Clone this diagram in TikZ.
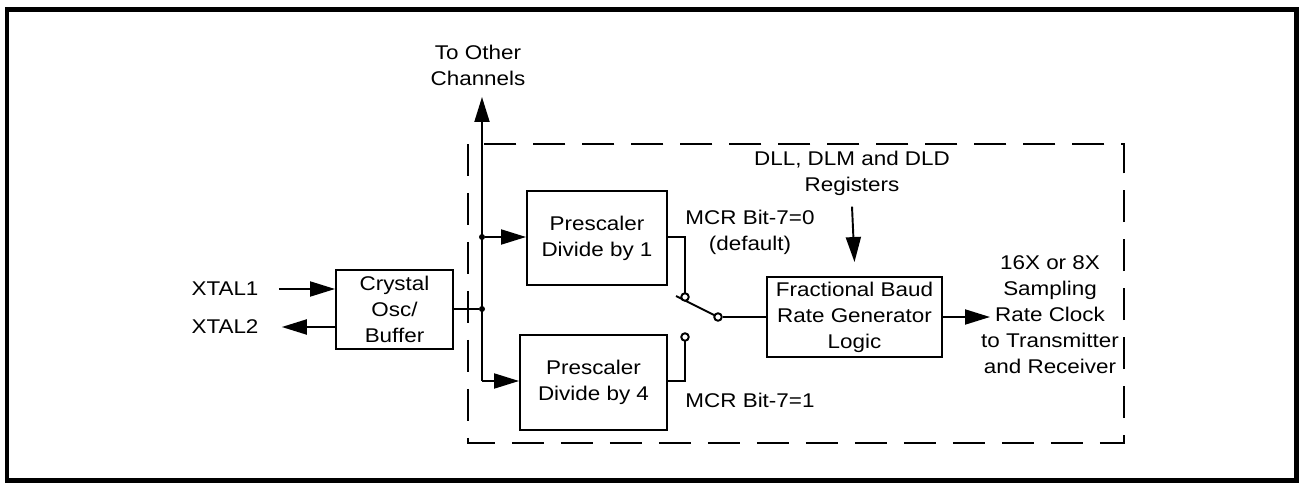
\documentclass[tikz,border=0pt]{standalone}
\usepackage{fontspec}
\setmainfont{Liberation Sans}[FakeStretch=1.13]
\usetikzlibrary{arrows.meta}

\begin{document}
\begin{tikzpicture}[x=0.02cm,y=-0.02cm,
    font=\fontsize{11.3}{14.8}\selectfont,
    uartFrame/.style={line width=0.1cm},
    uartDash/.style={line width=1.1pt,dash pattern=on 0.64cm off 0.34cm},
    uartBox/.style={draw,line width=1.1pt,align=center,inner sep=0pt},
    uartWire/.style={line width=1.1pt},
    uartArr/.style={line width=1.1pt,-{Triangle[length=0.5cm,width=0.3cm]}},
    uartDot/.style={fill,circle,inner sep=0pt,minimum size=0.12cm},
    uartPin/.style={draw,fill=white,circle,line width=1.1pt,inner sep=0pt,minimum size=0.15cm},
    uartTxt/.style={align=center,inner sep=0pt},
]
\useasboundingbox (0,0) rectangle (1301,483);
\draw[uartFrame] (7,10) rectangle (1296,480);
\draw[uartDash] (468,144) rectangle (1124,443);
% Blocks
\node[uartBox,minimum width=2.34cm,minimum height=1.58cm] (crystal) at (394.5,309.5) {Crystal\\Osc/\\Buffer};
\node[uartBox,minimum width=2.8cm,minimum height=1.88cm] (pre1) at (597,238) {Prescaler\\Divide by 1};
\node[uartBox,minimum width=2.94cm,minimum height=1.9cm] (pre4) at (593.5,382.5) {Prescaler\\Divide by 4};
\node[uartBox,minimum width=3.5cm,minimum height=1.6cm] (fbrg) at (854.5,317) {Fractional Baud\\Rate Generator\\Logic};
% Labels
\node[uartTxt] (xtal1) at (225,289) {XTAL1};
\node[uartTxt] (xtal2) at (225,327) {XTAL2};
\node[uartTxt] (other) at (478,65) {To Other\\Channels};
\node[uartTxt] (regs) at (852,173) {DLL, DLM and DLD\\Registers};
\node[uartTxt] (mcr0) at (750,232) {MCR Bit-7=0\\(default)};
\node[uartTxt] (mcr1) at (750,400) {MCR Bit-7=1};
\node[uartTxt] (out) at (1050,315) {16X or 8X\\Sampling\\Rate Clock\\to Transmitter\\and Receiver};
% Clock bus
\node[uartDot] (j1) at (482,237) {};
\node[uartDot] (j0) at (482,309) {};
\coordinate (busbot) at (482,381);
\coordinate (bustop) at (482,97);
\draw[uartArr] (busbot) -- (bustop);
\draw[uartWire] (crystal.east |- j0) -- (j0);
\draw[uartArr] (j1) -- (pre1.west |- j1);
\draw[uartArr] (busbot) -- (pre4.west |- busbot);
% Crystal pins
\draw[uartArr] ([xshift=0.4cm]xtal1.east) -- (crystal.west |- xtal1);
\draw[uartArr] (crystal.west |- xtal2) -- ([xshift=0.46cm]xtal2.east);
% MCR bit-7 switch
\coordinate (arm) at (676,296);
\draw[uartWire] (pre1.east |- j1) -| (685,297);
\draw[uartWire] (pre4.east |- busbot) -| (685,337);
\draw[uartWire] (arm) -- (718,317);
\node[uartPin] (sw0) at (685,297) {};
\node[uartPin] (sw1) at (685,337) {};
\node[uartPin] (swc) at (718,317) {};
\draw[uartWire] (swc) -- (fbrg.west |- swc);
% Divisor and output
\coordinate (clk) at (990,317);
\draw[uartArr] ([yshift=-0.22cm]regs.south) -- ([yshift=0.28cm]fbrg.north);
\draw[uartArr] (fbrg) -- (clk);
\end{tikzpicture}
\end{document}
